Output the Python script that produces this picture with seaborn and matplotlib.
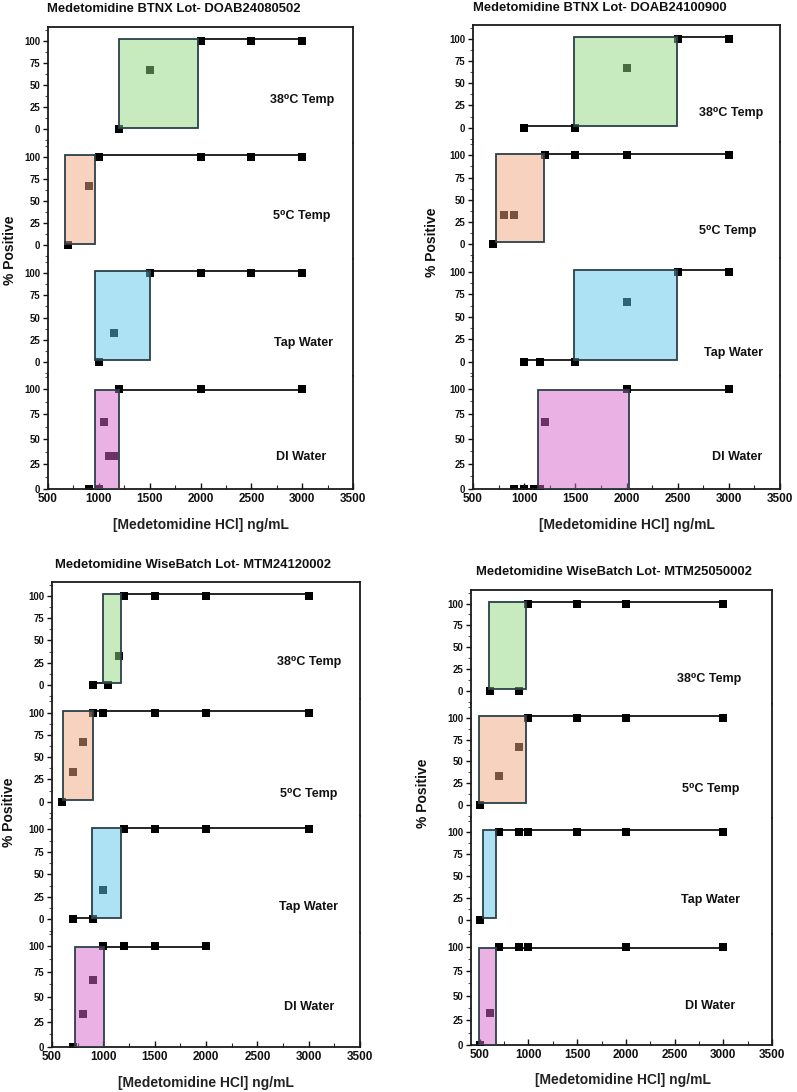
import matplotlib
matplotlib.use("Agg")
import matplotlib.pyplot as plt
from matplotlib.patches import Rectangle
from matplotlib.ticker import MultipleLocator
import pandas as pd
import seaborn as sns

# ---------------- data ----------------
titles = [
    "Medetomidine BTNX Lot- DOAB24080502",
    "Medetomidine BTNX Lot- DOAB24100900",
    "Medetomidine WiseBatch Lot- MTM24120002",
    "Medetomidine WiseBatch Lot- MTM25050002",
]
conditions = ["38\u2070C Temp", "5\u2070C Temp", "Tap Water", "DI Water"]
x_ticks = [500, 1000, 1500, 2000, 2500, 3000, 3500]
y_ticks = [0, 25, 50, 75, 100]

# Panel 1 : BTNX DOAB24080502
p1_t38_x = [1200, 1500, 2000, 2500, 3000]
p1_t38_y = [0, 67, 100, 100, 100]
p1_t38_box = [1200, 1980]
p1_t5_x = [700, 900, 1000, 2000, 2500, 3000]
p1_t5_y = [0, 67, 100, 100, 100, 100]
p1_t5_box = [665, 965]
p1_tap_x = [1000, 1150, 1500, 2000, 2500, 3000]
p1_tap_y = [0, 33, 100, 100, 100, 100]
p1_tap_box = [965, 1500]
p1_di_x = [900, 1000, 1050, 1100, 1150, 1200, 2000, 3000]
p1_di_y = [0, 0, 67, 33, 33, 100, 100, 100]
p1_di_box = [965, 1200]

# Panel 2 : BTNX DOAB24100900
p2_t38_x = [1000, 1500, 2000, 2500, 3000]
p2_t38_y = [0, 0, 67, 100, 100]
p2_t38_box = [1490, 2490]
p2_t5_x = [700, 800, 900, 1200, 1500, 2000, 3000]
p2_t5_y = [0, 33, 33, 100, 100, 100, 100]
p2_t5_box = [720, 1190]
p2_tap_x = [1000, 1150, 1500, 2000, 2500, 3000]
p2_tap_y = [0, 0, 0, 67, 100, 100]
p2_tap_box = [1490, 2490]
p2_di_x = [900, 1000, 1100, 1150, 1200, 2000, 3000]
p2_di_y = [0, 0, 0, 0, 67, 100, 100]
p2_di_box = [1135, 2020]

# Panel 3 : WiseBatch MTM24120002
p3_t38_x = [900, 1050, 1150, 1200, 1500, 2000, 3000]
p3_t38_y = [0, 0, 33, 100, 100, 100, 100]
p3_t38_box = [1000, 1175]
p3_t5_x = [600, 700, 800, 900, 1000, 1500, 2000, 3000]
p3_t5_y = [0, 33, 67, 100, 100, 100, 100, 100]
p3_t5_box = [610, 895]
p3_tap_x = [700, 900, 1000, 1200, 1500, 2000, 3000]
p3_tap_y = [0, 0, 33, 100, 100, 100, 100]
p3_tap_box = [890, 1175]
p3_di_x = [700, 800, 900, 1000, 1200, 1500, 2000]
p3_di_y = [0, 33, 67, 100, 100, 100, 100]
p3_di_box = [720, 1005]

# Panel 4 : WiseBatch MTM25050002
p4_t38_x = [600, 900, 1000, 1500, 2000, 3000]
p4_t38_y = [0, 0, 100, 100, 100, 100]
p4_t38_box = [590, 970]
p4_t5_x = [500, 700, 900, 1000, 1500, 2000, 3000]
p4_t5_y = [0, 33, 67, 100, 100, 100, 100]
p4_t5_box = [490, 970]
p4_tap_x = [500, 700, 900, 1000, 1500, 2000, 3000]
p4_tap_y = [0, 100, 100, 100, 100, 100, 100]
p4_tap_box = [530, 665]
p4_di_x = [500, 600, 700, 900, 1000, 2000, 3000]
p4_di_y = [0, 33, 100, 100, 100, 100, 100]
p4_di_box = [490, 665]

panels = [
    [(p1_t38_x, p1_t38_y, p1_t38_box), (p1_t5_x, p1_t5_y, p1_t5_box),
     (p1_tap_x, p1_tap_y, p1_tap_box), (p1_di_x, p1_di_y, p1_di_box)],
    [(p2_t38_x, p2_t38_y, p2_t38_box), (p2_t5_x, p2_t5_y, p2_t5_box),
     (p2_tap_x, p2_tap_y, p2_tap_box), (p2_di_x, p2_di_y, p2_di_box)],
    [(p3_t38_x, p3_t38_y, p3_t38_box), (p3_t5_x, p3_t5_y, p3_t5_box),
     (p3_tap_x, p3_tap_y, p3_tap_box), (p3_di_x, p3_di_y, p3_di_box)],
    [(p4_t38_x, p4_t38_y, p4_t38_box), (p4_t5_x, p4_t5_y, p4_t5_box),
     (p4_tap_x, p4_tap_y, p4_tap_box), (p4_di_x, p4_di_y, p4_di_box)],
]

# ---------------- style / layout ----------------
W, H = 797, 1092
fill_colors = ["#91d981", "#f1a781", "#5dc7eb", "#d767cb"]
edge_color = "#2c4048"
# panel frames in pixels: left, right, top, bottom
frames = [(48, 353, 27, 489), (473, 780, 25, 489),
          (52, 360, 582, 1047), (471, 772, 590, 1045)]
xlims = [(500, 3500), (500, 3500), (500, 3500), (410, 3500)]
title_pos = [(47, 9), (473, 8), (55, 565), (476, 572)]
ylabel_pos = [(10, 250), (432, 242), (9, 812), (423, 793)]
xlabel_pos = [(201, 525), (627, 525), (206, 1083), (623, 1080)]
label_pos = [
    [(3000, 33), (3000, 33), (3015, 22), (2985, 32)],
    [(3025, 16), (2990, 15), (3045, 10), (3085, 32)],
    [(3000, 26), (3000, 9), (3000, 14), (3000, 40)],
    [(2850, 13), (2866, 18), (2866, 23), (2866, 40)],
]
band_lo = [2, 2, 2, 0]
band_hi = [102, 102, 102, 99]

sns.set_theme(style="ticks")
plt.rcParams['font.family'] = ['Liberation Sans', 'DejaVu Sans']

fig = plt.figure(figsize=(W / 100, H / 100), dpi=100)

for p, bands in enumerate(panels):
    L, R, T, B = frames[p]
    gs = fig.add_gridspec(4, 1, left=L / W, right=R / W, top=1 - T / H,
                          bottom=1 - B / H, height_ratios=[116, 116, 117, 113],
                          hspace=0)
    for i, (xs, ys, box) in enumerate(bands):
        ax = fig.add_subplot(gs[i])
        df = pd.DataFrame({"conc": xs, "pos": ys})
        sns.scatterplot(data=df, x="conc", y="pos", marker="s", color="black",
                        s=28, linewidth=0, ax=ax, zorder=2, legend=False)
        lo, hi = box
        zero_x = [x for x, y in zip(xs, ys) if y == 0]
        full_x = [x for x, y in zip(xs, ys) if y == 100]
        if zero_x and min(zero_x) < lo - 5:
            ax.plot([min(zero_x), lo], [band_lo[i], band_lo[i]], color="black",
                    lw=1.2, zorder=2.5)
        if full_x:
            ax.plot([hi, max(full_x)], [band_hi[i], band_hi[i]], color="black",
                    lw=1.2, zorder=2.5)
        ax.add_patch(Rectangle((lo, band_lo[i]), hi - lo, band_hi[i] - band_lo[i],
                               facecolor=matplotlib.colors.to_rgba(fill_colors[i], 0.5),
                               edgecolor=edge_color, lw=1.3, zorder=3))
        tx, ty = label_pos[p][i]
        ax.text(tx, ty, conditions[i], ha="center", va="center", fontsize=9,
                fontweight="bold", color="#111111")

        ax.set_xlim(*xlims[p])
        if i < 3:
            ax.set_ylim(-15.5, 115.5)
        else:
            ax.set_ylim(0, 113)
        ax.set_xlabel("")
        ax.set_ylabel("")
        ax.set_yticks(y_ticks, labels=[str(v) for v in y_ticks],
                      fontweight="bold", fontsize=6.9)
        ax.yaxis.set_minor_locator(MultipleLocator(12.5))
        ax.tick_params(axis="y", which="major", direction="out", length=3.5,
                       width=1, pad=2, colors="#111111")
        ax.tick_params(axis="y", which="minor", direction="out", length=2,
                       width=0.8, color="#555555")
        if i < 3:
            ax.tick_params(axis="x", which="both", bottom=False, labelbottom=False)
        else:
            ax.set_xticks(x_ticks, labels=[str(v) for v in x_ticks],
                          fontweight="bold", fontsize=8.5)
            ax.xaxis.set_minor_locator(MultipleLocator(250))
            ax.tick_params(axis="x", which="major", direction="in", length=4,
                           width=1, pad=3, colors="#111111")
            ax.tick_params(axis="x", which="minor", direction="in", length=3,
                           width=0.8)
        for s in ["left", "right", "top", "bottom"]:
            ax.spines[s].set_color("#1a1a1a")
            ax.spines[s].set_linewidth(1.3)
        ax.spines["top"].set_visible(i == 0)
        ax.spines["bottom"].set_visible(i == 3)
        ax.set_facecolor("white")

    tx, ty = title_pos[p]
    fig.text(tx / W, 1 - ty / H, titles[p], ha="left", va="center",
             fontsize=9.4, fontweight="bold", color="#111111")
    yx, yy = ylabel_pos[p]
    fig.text(yx / W, 1 - yy / H, "% Positive", rotation=90, ha="center",
             va="center", fontsize=10, fontweight="bold", color="#111111")
    xx, xy = xlabel_pos[p]
    fig.text(xx / W, 1 - xy / H, "[Medetomidine HCl] ng/mL", ha="center",
             va="center", fontsize=10, fontweight="bold", color="#222222")

fig.savefig("out.png", dpi=100, facecolor="white")
